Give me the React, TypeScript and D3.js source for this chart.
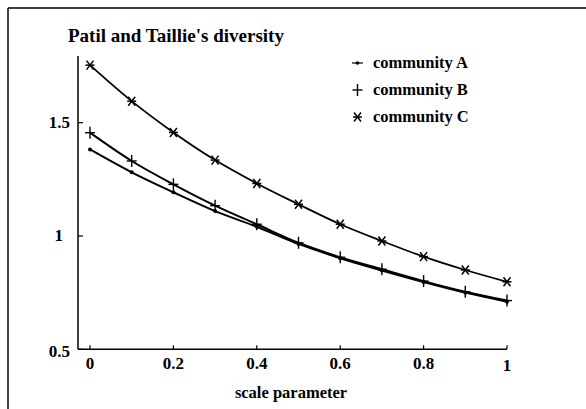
import React from "react";
import * as d3 from "d3";

const scaleParam = [0, 0.1, 0.2, 0.3, 0.4, 0.5, 0.6, 0.7, 0.8, 0.9, 1.0];
const communityA = [1.382, 1.281, 1.193, 1.11, 1.041, 0.965, 0.902, 0.848, 0.797, 0.75, 0.71];
const communityB = [1.456, 1.331, 1.228, 1.134, 1.052, 0.97, 0.906, 0.853, 0.801, 0.754, 0.715];
const communityC = [1.754, 1.595, 1.457, 1.335, 1.232, 1.14, 1.052, 0.978, 0.909, 0.85, 0.798];
const xTicks = [0, 0.2, 0.4, 0.6, 0.8, 1];
const yTicks = [0.5, 1, 1.5];
const seriesNames = ["community A", "community B", "community C"];

const W = 586;
const H = 409;
const x = d3.scaleLinear().domain([0, 1]).range([90, 507]);
const y = d3.scaleLinear().domain([1, 1.5]).range([236, 122.7]);
const xAxisStart = 78;
const yAxisTop = 56;
const yAxisBottom = y(0.5);
const font = "'Liberation Serif', 'Times New Roman', serif";

function Marker({ kind, cx, cy }: { kind: number; cx: number; cy: number }) {
  if (kind === 0) return <circle cx={cx} cy={cy} r={2} fill="#000" />;
  if (kind === 1)
    return (
      <g stroke="#000" strokeWidth={1.4}>
        <line x1={cx - 5} x2={cx + 5} y1={cy} y2={cy} />
        <line x1={cx} x2={cx} y1={cy - 6} y2={cy + 6} />
      </g>
    );
  return (
    <g stroke="#000" strokeWidth={1.5}>
      <line x1={cx - 4.5} x2={cx + 4.5} y1={cy} y2={cy} />
      <line x1={cx - 3.5} x2={cx + 3.5} y1={cy - 4.5} y2={cy + 4.5} />
      <line x1={cx - 3.5} x2={cx + 3.5} y1={cy + 4.5} y2={cy - 4.5} />
    </g>
  );
}

export default function App() {
  const series = [communityA, communityB, communityC];
  const line = d3
    .line<number>()
    .x((_, i) => x(scaleParam[i]))
    .y((d) => y(d))
    .curve(d3.curveMonotoneX);

  return (
    <svg
      width={W}
      height={H}
      style={{ position: "absolute", left: 0, top: 0, background: "#fff" }}
      fontFamily={font}
      fontWeight="bold"
    >
      <rect x={0} y={0} width={W} height={H} fill="#fff" />
      {/* frame */}
      <line x1={8} x2={W} y1={8} y2={8} stroke="#000" strokeWidth={1.5} />
      <line x1={8} x2={8} y1={8} y2={H} stroke="#000" strokeWidth={1.5} />

      <text x={68} y={42} fontSize={19} fill="#000">
        Patil and Taillie's diversity
      </text>

      {/* axes */}
      <line x1={xAxisStart} x2={xAxisStart} y1={yAxisTop} y2={yAxisBottom} stroke="#000" strokeWidth={1.5} />
      <line x1={xAxisStart} x2={x(1)} y1={yAxisBottom} y2={yAxisBottom} stroke="#000" strokeWidth={1.5} />
      {xTicks.map((t) => (
        <g key={"x" + t}>
          <line x1={x(t)} x2={x(t)} y1={yAxisBottom} y2={yAxisBottom - 4} stroke="#000" strokeWidth={1.2} />
          <text x={x(t)} y={t === 1 ? 371 : 369} textAnchor="middle" fontSize={17} fill="#000">
            {String(t)}
          </text>
        </g>
      ))}
      {yTicks.map((t) => (
        <g key={"y" + t}>
          <line x1={xAxisStart} x2={xAxisStart + 5} y1={y(t)} y2={y(t)} stroke="#000" strokeWidth={1.2} />
          <text x={t === 1 ? 63 : 70} y={y(t) + (t === 0.5 ? 8 : 5)} textAnchor="end" fontSize={17} fill="#000">
            {String(t)}
          </text>
        </g>
      ))}
      <text x={291} y={398} textAnchor="middle" fontSize={16.5} fill="#000">
        scale parameter
      </text>

      {/* series */}
      {series.map((s, si) => (
        <g key={"s" + si}>
          <path d={line(s) || ""} fill="none" stroke="#000" strokeWidth={si === 2 ? 1.8 : 2} />
          {s.map((v, i) => (
            <Marker key={i} kind={si} cx={x(scaleParam[i])} cy={y(v)} />
          ))}
        </g>
      ))}

      {/* legend */}
      {seriesNames.map((name, i) => {
        const ly = 63 + i * 27;
        return (
          <g key={name}>
            {i === 0 ? (
              <g>
                <line x1={352} x2={363} y1={ly} y2={ly} stroke="#000" strokeWidth={1.2} />
                <circle cx={357.5} cy={ly} r={1.8} fill="#000" />
              </g>
            ) : (
              <Marker kind={i} cx={357.5} cy={ly} />
            )}
            <text x={373} y={ly + 5} fontSize={16.5} fill="#000">
              {name}
            </text>
          </g>
        );
      })}
    </svg>
  );
}
